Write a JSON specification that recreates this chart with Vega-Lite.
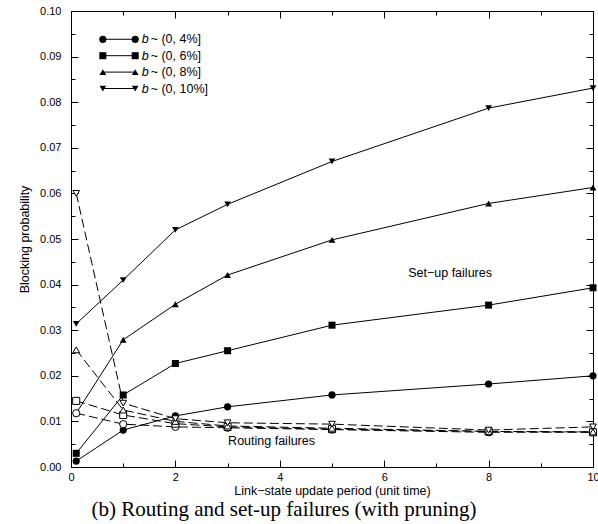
{
  "$schema": "https://vega.github.io/schema/vega-lite/v6.json",
  "width": 522,
  "height": 456,
  "autosize": {"type": "none"},
  "padding": {"left": 71, "top": 11, "right": 5, "bottom": 57},
  "background": "white",
  "title": {"text": "(b) Routing and set-up failures (with pruning)", "orient": "bottom", "font": "Liberation Serif", "fontSize": 21, "fontWeight": "normal", "color": "black", "anchor": "middle", "dx": -48, "offset": 2},
  "config": {
    "view": {"stroke": "black"},
    "axis": {"grid": false, "domainColor": "black", "tickColor": "black", "labelColor": "black", "titleColor": "black", "labelFont": "Liberation Sans", "labelFontSize": 11, "titleFont": "Liberation Sans", "titleFontSize": 12.5, "titleFontWeight": "normal", "domainWidth": 1, "tickWidth": 1, "labelOverlap": false, "labelFlush": false}
  },
  "datasets": {
    "curves": [
      {"period": 0.1, "prob": 0.0013, "series": "b4", "kind": "setup"},
      {"period": 1, "prob": 0.0081, "series": "b4", "kind": "setup"},
      {"period": 2, "prob": 0.0112, "series": "b4", "kind": "setup"},
      {"period": 3, "prob": 0.0132, "series": "b4", "kind": "setup"},
      {"period": 5, "prob": 0.0158, "series": "b4", "kind": "setup"},
      {"period": 8, "prob": 0.0182, "series": "b4", "kind": "setup"},
      {"period": 10, "prob": 0.0200, "series": "b4", "kind": "setup"},
      {"period": 0.1, "prob": 0.0030, "series": "b6", "kind": "setup"},
      {"period": 1, "prob": 0.0158, "series": "b6", "kind": "setup"},
      {"period": 2, "prob": 0.0227, "series": "b6", "kind": "setup"},
      {"period": 3, "prob": 0.0255, "series": "b6", "kind": "setup"},
      {"period": 5, "prob": 0.0311, "series": "b6", "kind": "setup"},
      {"period": 8, "prob": 0.0355, "series": "b6", "kind": "setup"},
      {"period": 10, "prob": 0.0393, "series": "b6", "kind": "setup"},
      {"period": 0.1, "prob": 0.0118, "series": "b8", "kind": "setup"},
      {"period": 1, "prob": 0.0279, "series": "b8", "kind": "setup"},
      {"period": 2, "prob": 0.0357, "series": "b8", "kind": "setup"},
      {"period": 3, "prob": 0.0421, "series": "b8", "kind": "setup"},
      {"period": 5, "prob": 0.0498, "series": "b8", "kind": "setup"},
      {"period": 8, "prob": 0.0578, "series": "b8", "kind": "setup"},
      {"period": 10, "prob": 0.0613, "series": "b8", "kind": "setup"},
      {"period": 0.1, "prob": 0.0314, "series": "b10", "kind": "setup"},
      {"period": 1, "prob": 0.0410, "series": "b10", "kind": "setup"},
      {"period": 2, "prob": 0.0520, "series": "b10", "kind": "setup"},
      {"period": 3, "prob": 0.0576, "series": "b10", "kind": "setup"},
      {"period": 5, "prob": 0.0670, "series": "b10", "kind": "setup"},
      {"period": 8, "prob": 0.0787, "series": "b10", "kind": "setup"},
      {"period": 10, "prob": 0.0831, "series": "b10", "kind": "setup"},
      {"period": 0.1, "prob": 0.0118, "series": "b4", "kind": "routing"},
      {"period": 1, "prob": 0.0094, "series": "b4", "kind": "routing"},
      {"period": 2, "prob": 0.0088, "series": "b4", "kind": "routing"},
      {"period": 3, "prob": 0.0086, "series": "b4", "kind": "routing"},
      {"period": 5, "prob": 0.0082, "series": "b4", "kind": "routing"},
      {"period": 8, "prob": 0.0076, "series": "b4", "kind": "routing"},
      {"period": 10, "prob": 0.0077, "series": "b4", "kind": "routing"},
      {"period": 0.1, "prob": 0.0145, "series": "b6", "kind": "routing"},
      {"period": 1, "prob": 0.0114, "series": "b6", "kind": "routing"},
      {"period": 2, "prob": 0.0095, "series": "b6", "kind": "routing"},
      {"period": 3, "prob": 0.0088, "series": "b6", "kind": "routing"},
      {"period": 5, "prob": 0.0083, "series": "b6", "kind": "routing"},
      {"period": 8, "prob": 0.0078, "series": "b6", "kind": "routing"},
      {"period": 10, "prob": 0.0076, "series": "b6", "kind": "routing"},
      {"period": 0.1, "prob": 0.0257, "series": "b8", "kind": "routing"},
      {"period": 1, "prob": 0.0125, "series": "b8", "kind": "routing"},
      {"period": 2, "prob": 0.0100, "series": "b8", "kind": "routing"},
      {"period": 3, "prob": 0.0090, "series": "b8", "kind": "routing"},
      {"period": 5, "prob": 0.0085, "series": "b8", "kind": "routing"},
      {"period": 8, "prob": 0.0078, "series": "b8", "kind": "routing"},
      {"period": 10, "prob": 0.0077, "series": "b8", "kind": "routing"},
      {"period": 0.1, "prob": 0.0600, "series": "b10", "kind": "routing"},
      {"period": 1, "prob": 0.0140, "series": "b10", "kind": "routing"},
      {"period": 2, "prob": 0.0106, "series": "b10", "kind": "routing"},
      {"period": 3, "prob": 0.0097, "series": "b10", "kind": "routing"},
      {"period": 5, "prob": 0.0094, "series": "b10", "kind": "routing"},
      {"period": 8, "prob": 0.0081, "series": "b10", "kind": "routing"},
      {"period": 10, "prob": 0.0088, "series": "b10", "kind": "routing"}
    ],
    "legend": [
      {"period": 0.61, "prob": 0.0938, "series": "b4"},
      {"period": 1.23, "prob": 0.0938, "series": "b4"},
      {"period": 0.61, "prob": 0.0902, "series": "b6"},
      {"period": 1.23, "prob": 0.0902, "series": "b6"},
      {"period": 0.61, "prob": 0.0866, "series": "b8"},
      {"period": 1.23, "prob": 0.0866, "series": "b8"},
      {"period": 0.61, "prob": 0.0830, "series": "b10"},
      {"period": 1.23, "prob": 0.0830, "series": "b10"}
    ],
    "legendText": [
      {"period": 1.354, "prob": 0.0938, "label": "~ (0, 4%]"},
      {"period": 1.354, "prob": 0.0902, "label": "~ (0, 6%]"},
      {"period": 1.354, "prob": 0.0866, "label": "~ (0, 8%]"},
      {"period": 1.354, "prob": 0.0830, "label": "~ (0, 10%]"}
    ],
    "notes": [
      {"period": 6.46, "prob": 0.0425, "label": "Set−up failures"},
      {"period": 3.01, "prob": 0.0057, "label": "Routing failures"}
    ]
  },
  "layer": [
    {
      "data": {"name": "curves"},
      "transform": [{"filter": "datum.kind === 'setup'"}],
      "mark": {"type": "line", "color": "black", "strokeWidth": 1},
      "encoding": {
        "x": {"field": "period", "type": "quantitative", "scale": {"domain": [0, 10], "nice": false, "zero": false},
              "axis": {"orient": "bottom", "values": [0, 2, 4, 6, 8, 10], "tickSize": -7, "labelPadding": 11, "title": "Link−state update period (unit time)", "titlePadding": 2}},
        "y": {"field": "prob", "type": "quantitative", "scale": {"domain": [0, 0.1], "nice": false},
              "axis": {"orient": "left", "values": [0, 0.01, 0.02, 0.03, 0.04, 0.05, 0.06, 0.07, 0.08, 0.09, 0.1], "format": ".2f", "tickSize": -7, "labelPadding": 17, "title": "Blocking probability", "titlePadding": 8}},
        "detail": {"field": "series"}
      }
    },
    {
      "data": {"name": "curves"},
      "transform": [{"filter": "datum.kind === 'routing'"}],
      "mark": {"type": "line", "color": "black", "strokeWidth": 1, "strokeDash": [9, 4]},
      "encoding": {
        "x": {"field": "period", "type": "quantitative", "scale": {"domain": [0, 10], "nice": false, "zero": false}, "axis": null},
        "y": {"field": "prob", "type": "quantitative", "scale": {"domain": [0, 0.1], "nice": false}, "axis": null},
        "detail": {"field": "series"}
      }
    },
    {
      "data": {"name": "curves"},
      "transform": [{"filter": "datum.kind === 'setup'"}],
      "mark": {"type": "point", "filled": true, "color": "black", "opacity": 1},
      "encoding": {
        "x": {"field": "period", "type": "quantitative", "scale": {"domain": [0, 10], "nice": false, "zero": false}, "axis": null},
        "y": {"field": "prob", "type": "quantitative", "scale": {"domain": [0, 0.1], "nice": false}, "axis": null},
        "shape": {"field": "series", "type": "nominal", "scale": {"domain": ["b4", "b6", "b8", "b10"], "range": ["circle", "square", "triangle-up", "triangle-down"]}, "legend": null},
        "size": {"field": "series", "type": "nominal", "scale": {"domain": ["b4", "b6", "b8", "b10"], "range": [52, 44, 100, 100]}, "legend": null}
      }
    },
    {
      "data": {"name": "curves"},
      "transform": [{"filter": "datum.kind === 'routing'"}],
      "mark": {"type": "point", "filled": false, "fill": "white", "fillOpacity": 1, "stroke": "black", "strokeWidth": 1, "opacity": 1},
      "encoding": {
        "x": {"field": "period", "type": "quantitative", "scale": {"domain": [0, 10], "nice": false, "zero": false},
              "axis": {"orient": "top", "values": [0, 2, 4, 6, 8, 10], "tickSize": -7, "labels": false, "title": null}},
        "y": {"field": "prob", "type": "quantitative", "scale": {"domain": [0, 0.1], "nice": false},
              "axis": {"orient": "right", "values": [0, 0.01, 0.02, 0.03, 0.04, 0.05, 0.06, 0.07, 0.08, 0.09, 0.1], "tickSize": -7, "labels": false, "title": null}},
        "shape": {"field": "series", "type": "nominal", "scale": {"domain": ["b4", "b6", "b8", "b10"], "range": ["circle", "square", "triangle-up", "triangle-down"]}, "legend": null},
        "size": {"field": "series", "type": "nominal", "scale": {"domain": ["b4", "b6", "b8", "b10"], "range": [52, 44, 100, 100]}, "legend": null}
      }
    },
    {
      "data": {"name": "legend"},
      "mark": {"type": "line", "color": "black", "strokeWidth": 1},
      "encoding": {
        "x": {"field": "period", "type": "quantitative", "scale": {"domain": [0, 10], "nice": false, "zero": false},
              "axis": {"orient": "bottom", "values": [1, 3, 5, 7, 9], "tickSize": -4, "labels": false, "domain": false, "title": null}},
        "y": {"field": "prob", "type": "quantitative", "scale": {"domain": [0, 0.1], "nice": false},
              "axis": {"orient": "left", "values": [0.005, 0.015, 0.025, 0.035, 0.045, 0.055, 0.065, 0.075, 0.085, 0.095], "tickSize": -4, "labels": false, "domain": false, "title": null}},
        "detail": {"field": "series"}
      }
    },
    {
      "data": {"name": "legend"},
      "mark": {"type": "point", "filled": true, "color": "black", "opacity": 1},
      "encoding": {
        "x": {"field": "period", "type": "quantitative", "scale": {"domain": [0, 10], "nice": false, "zero": false},
              "axis": {"orient": "top", "values": [1, 3, 5, 7, 9], "tickSize": -4, "labels": false, "domain": false, "title": null}},
        "y": {"field": "prob", "type": "quantitative", "scale": {"domain": [0, 0.1], "nice": false},
              "axis": {"orient": "right", "values": [0.005, 0.015, 0.025, 0.035, 0.045, 0.055, 0.065, 0.075, 0.085, 0.095], "tickSize": -4, "labels": false, "domain": false, "title": null}},
        "shape": {"field": "series", "type": "nominal", "scale": {"domain": ["b4", "b6", "b8", "b10"], "range": ["circle", "square", "triangle-up", "triangle-down"]}, "legend": null},
        "size": {"field": "series", "type": "nominal", "scale": {"domain": ["b4", "b6", "b8", "b10"], "range": [52, 44, 100, 100]}, "legend": null}
      }
    },
    {
      "data": {"name": "legendText"},
      "mark": {"type": "text", "text": "b", "font": "Liberation Sans", "fontStyle": "italic", "fontSize": 12.5, "align": "left", "baseline": "middle", "color": "black"},
      "encoding": {
        "x": {"field": "period", "type": "quantitative", "scale": {"domain": [0, 10], "nice": false, "zero": false}, "axis": null},
        "y": {"field": "prob", "type": "quantitative", "scale": {"domain": [0, 0.1], "nice": false}, "axis": null}
      }
    },
    {
      "data": {"name": "legendText"},
      "mark": {"type": "text", "font": "Liberation Sans", "fontSize": 12.5, "align": "left", "baseline": "middle", "color": "black", "dx": 9},
      "encoding": {
        "x": {"field": "period", "type": "quantitative", "scale": {"domain": [0, 10], "nice": false, "zero": false}, "axis": null},
        "y": {"field": "prob", "type": "quantitative", "scale": {"domain": [0, 0.1], "nice": false}, "axis": null},
        "text": {"field": "label"}
      }
    },
    {
      "data": {"name": "notes"},
      "mark": {"type": "text", "font": "Liberation Sans", "fontSize": 12.5, "align": "left", "baseline": "middle", "color": "black"},
      "encoding": {
        "x": {"field": "period", "type": "quantitative", "scale": {"domain": [0, 10], "nice": false, "zero": false}, "axis": null},
        "y": {"field": "prob", "type": "quantitative", "scale": {"domain": [0, 0.1], "nice": false}, "axis": null},
        "text": {"field": "label"}
      }
    }
  ],
  "resolve": {"axis": {"x": "independent", "y": "independent"}}
}
